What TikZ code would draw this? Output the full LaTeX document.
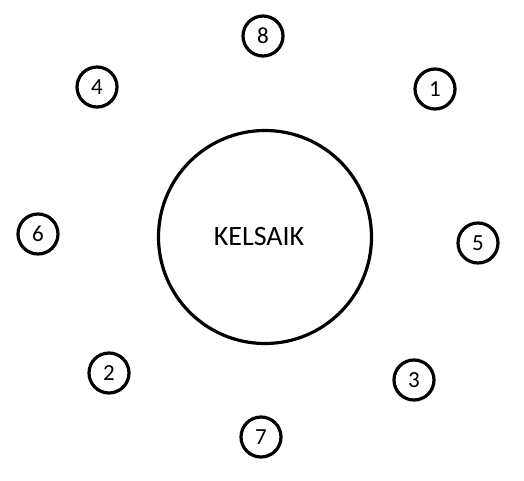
\documentclass[tikz,border=0pt]{standalone}
\usepackage{fontspec}
\setmainfont{Carlito}
\usetikzlibrary{positioning}

\begin{document}
\begin{tikzpicture}[x=1pt, y=-1pt,
    seat/.style={circle, draw, line width=3.2pt, minimum size=40pt, inner sep=0pt, font=\fontsize{23}{23}\selectfont},
    table/.style={circle, draw, line width=3.2pt, minimum size=213pt, inner sep=0pt, font=\fontsize{28}{28}\selectfont}]
  \useasboundingbox (0,0) rectangle (524,481);
  \node[table] (k) at (265,237) {KELSAIK\hspace*{12pt}};
  % seats round the table
  \node[seat] (s8) at (263,36) {8};
  \node[seat] (s4) at (97,87) {4};
  \node[seat] (s1) at (435,89) {1};
  \node[seat] (s6) at (38,234) {6};
  \node[seat] (s5) at (478,243) {5};
  \node[seat] (s2) at (109,373) {2};
  \node[seat] (s3) at (414,380) {3};
  \node[seat] (s7) at (261,437) {7};
\end{tikzpicture}
\end{document}
